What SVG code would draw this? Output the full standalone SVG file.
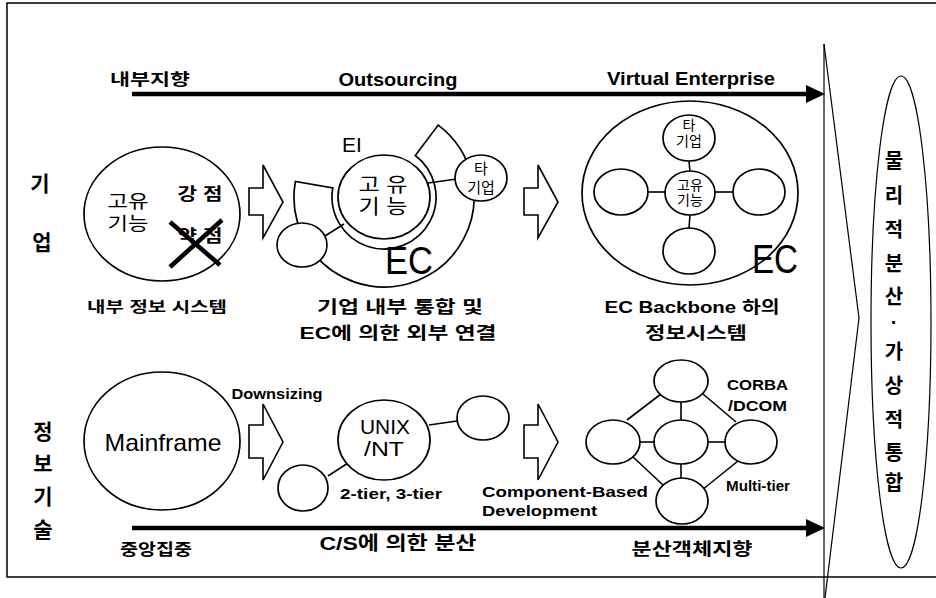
<svg xmlns="http://www.w3.org/2000/svg" width="936" height="598" viewBox="0 0 936 598">
<style>
.bg{fill:#fff}
.fr{fill:none;stroke:#000;stroke-width:1.5}
.ln{fill:none;stroke:#000;stroke-width:1.6}
.thin{fill:none;stroke:#000;stroke-width:1.2}
.nd{fill:#fff;stroke:#000;stroke-width:1.7}
.thick{stroke:#000;stroke-width:4.5;fill:none}
.head{fill:#000}
text{font-family:"Liberation Sans","Noto Sans CJK KR",sans-serif;fill:#000;text-anchor:middle}
.b{font-weight:bold}
.s{text-anchor:start}
</style>
<rect class="bg" x="0" y="0" width="936" height="598"/>
<g id="frame">
<path class="fr" d="M936,3 H7 V577 H936"/>
<line class="thin" x1="824" y1="44" x2="824" y2="598"/>
<polyline class="thin" points="824,44 859,318 825,598"/>
</g>
<g id="result">
<ellipse class="thin" cx="901" cy="322" rx="30" ry="246"/>
<g class="b" font-size="20">
<text x="894" y="168">물</text>
<text x="894" y="203">리</text>
<text x="894" y="237">적</text>
<text x="894" y="271">분</text>
<text x="894" y="304">산</text>
<text x="894" y="329">·</text>
<text x="894" y="359">가</text>
<text x="894" y="393">상</text>
<text x="894" y="427">적</text>
<text x="894" y="460">통</text>
<text x="894" y="490">합</text>
</g>
</g>
<g id="axis-labels" class="b" font-size="21">
<text x="40" y="191">기</text>
<text x="42" y="250">업</text>
<text x="43" y="439">정</text>
<text x="43" y="471">보</text>
<text x="43" y="504">기</text>
<text x="43" y="537">술</text>
</g>
<g id="connectors">
<line class="thick" x1="132" y1="94" x2="808" y2="94"/>
<polygon class="head" points="806,85 825,94 806,103"/>
<line class="thick" x1="132" y1="528" x2="808" y2="528"/>
<polygon class="head" points="806,519 825,528 806,537"/>
<polygon class="ln" points="249,188 263,188 263,165 283,202 263,238 263,215 249,215"/>
<polygon class="ln" points="524,188 538,188 538,165 558,202 538,238 538,215 524,215"/>
<polygon class="ln" points="249,425 263,425 263,404 283,442 263,480 263,458 249,458"/>
<polygon class="ln" points="524,425 538,425 538,404 558,442 538,480 538,458 524,458"/>
</g>
<g id="top-labels">
<text class="b" x="150" y="85" font-size="16" textLength="80" lengthAdjust="spacingAndGlyphs">내부지향</text>
<text class="b" x="398" y="86" font-size="19" textLength="119" lengthAdjust="spacingAndGlyphs">Outsourcing</text>
<text class="b" x="691" y="85" font-size="19" textLength="168" lengthAdjust="spacingAndGlyphs">Virtual Enterprise</text>
</g>
<g id="internal">
<ellipse class="nd" cx="162" cy="214" rx="78" ry="67"/>
<text x="128" y="208" font-size="18" textLength="41" lengthAdjust="spacingAndGlyphs">고유</text>
<text x="128" y="230" font-size="18" textLength="41" lengthAdjust="spacingAndGlyphs">기능</text>
<text class="b" x="200" y="200" font-size="17" textLength="45" lengthAdjust="spacingAndGlyphs">강 점</text>
<text class="b" x="200" y="242" font-size="17" textLength="45" lengthAdjust="spacingAndGlyphs">약 점</text>
<line class="thick" x1="170" y1="222" x2="220" y2="265"/>
<line class="thick" x1="170" y1="267" x2="222" y2="220"/>
<text class="b" x="157" y="312" font-size="15" textLength="140" lengthAdjust="spacingAndGlyphs">내부 정보 시스템</text>
</g>
<g id="ec-band">
<path class="nd" d="M438.2,125.1 A90,90 0 1 1 295.4,181.4 L332.8,188 A52,52 0 1 0 415.3,155.5 Z"/>
<text x="352" y="152" font-size="21">EI</text>
</g>
<g id="ec-links">
<line class="ln" x1="428" y1="183" x2="457" y2="179"/>
<line class="ln" x1="325" y1="236" x2="344" y2="224"/>
</g>
<g id="core">
<ellipse class="nd" cx="384" cy="197" rx="46" ry="42"/>
<text x="383" y="192" font-size="20" textLength="49" lengthAdjust="spacingAndGlyphs">고 유</text>
<text x="383" y="214" font-size="20" textLength="49" lengthAdjust="spacingAndGlyphs">기 능</text>
</g>
<g id="partner">
<ellipse class="nd" cx="481" cy="178" rx="26" ry="23"/>
<text x="481" y="174" font-size="15">타</text>
<text x="481" y="193" font-size="15">기업</text>
</g>
<g id="node-left">
<ellipse class="nd" cx="302" cy="245" rx="25" ry="22"/>
</g>
<g id="ec-label">
<text x="409" y="274" font-size="38" textLength="48" lengthAdjust="spacingAndGlyphs">EC</text>
<text class="b" x="400" y="313" font-size="17" textLength="166" lengthAdjust="spacingAndGlyphs">기업 내부 통합 및</text>
<text class="b" x="398" y="339" font-size="17" textLength="197" lengthAdjust="spacingAndGlyphs">EC에 의한 외부 연결</text>
</g>
<g id="ve">
<ellipse class="nd" cx="690" cy="193" rx="108" ry="92"/>
<line class="ln" x1="689" y1="161" x2="690" y2="172"/>
<line class="ln" x1="690" y1="215" x2="689" y2="228"/>
<line class="ln" x1="648" y1="192" x2="665" y2="192"/>
<line class="ln" x1="715" y1="192" x2="733" y2="192"/>
<ellipse class="nd" cx="689" cy="138" rx="26" ry="23"/>
<text x="689" y="130" font-size="14">타</text>
<text x="689" y="146" font-size="14">기업</text>
<ellipse class="nd" cx="690" cy="193" rx="25" ry="22"/>
<text x="690" y="190" font-size="14">고유</text>
<text x="690" y="205" font-size="14">기능</text>
<ellipse class="nd" cx="621" cy="192" rx="27" ry="23"/>
<ellipse class="nd" cx="759" cy="192" rx="26" ry="23"/>
<ellipse class="nd" cx="689" cy="251" rx="26" ry="23"/>
<text x="775" y="273" font-size="40" textLength="46" lengthAdjust="spacingAndGlyphs">EC</text>
<text class="b" x="692" y="313" font-size="17" textLength="175" lengthAdjust="spacingAndGlyphs">EC Backbone 하의</text>
<text class="b" x="696" y="339" font-size="17" textLength="102" lengthAdjust="spacingAndGlyphs">정보시스템</text>
</g>
<g id="mainframe">
<ellipse class="nd" cx="162" cy="441" rx="78" ry="69"/>
<text x="163" y="451" font-size="24" textLength="117" lengthAdjust="spacingAndGlyphs">Mainframe</text>
<text class="b" x="277" y="399" font-size="15" textLength="91" lengthAdjust="spacingAndGlyphs">Downsizing</text>
</g>
<g id="cs">
<line class="ln" x1="328" y1="476" x2="348" y2="463"/>
<line class="ln" x1="429" y1="425" x2="457" y2="421"/>
<ellipse class="nd" cx="384" cy="440" rx="46" ry="40"/>
<text x="385" y="434" font-size="20" textLength="50" lengthAdjust="spacingAndGlyphs">UNIX</text>
<text x="384" y="456" font-size="20" textLength="40" lengthAdjust="spacingAndGlyphs">/NT</text>
<ellipse class="nd" cx="303" cy="488" rx="25" ry="23"/>
<ellipse class="nd" cx="483" cy="418" rx="26" ry="22"/>
<text class="b" x="391" y="499" font-size="15" textLength="102" lengthAdjust="spacingAndGlyphs">2-tier, 3-tier</text>
</g>
<g id="distributed">
<line class="ln" x1="681" y1="402" x2="681" y2="420"/>
<line class="ln" x1="681" y1="463" x2="681" y2="478"/>
<line class="ln" x1="640" y1="442" x2="655" y2="442"/>
<line class="ln" x1="708" y1="442" x2="725" y2="442"/>
<line class="ln" x1="627" y1="420" x2="661" y2="394"/>
<line class="ln" x1="703" y1="394" x2="736" y2="422"/>
<line class="ln" x1="632" y1="456" x2="663" y2="485"/>
<line class="ln" x1="738" y1="461" x2="702" y2="490"/>
<ellipse class="nd" cx="681" cy="381" rx="27" ry="21"/>
<ellipse class="nd" cx="613" cy="442" rx="27" ry="22"/>
<ellipse class="nd" cx="681" cy="442" rx="27" ry="22"/>
<ellipse class="nd" cx="751" cy="442" rx="26" ry="22"/>
<ellipse class="nd" cx="682" cy="501" rx="26" ry="23"/>
<text class="b s" x="727" y="390" font-size="15" textLength="61" lengthAdjust="spacingAndGlyphs">CORBA</text>
<text class="b s" x="728" y="411" font-size="15" textLength="59" lengthAdjust="spacingAndGlyphs">/DCOM</text>
<text class="b s" x="726" y="491" font-size="15" textLength="64" lengthAdjust="spacingAndGlyphs">Multi-tier</text>
<text class="b s" x="482" y="497" font-size="15" textLength="166" lengthAdjust="spacingAndGlyphs">Component-Based</text>
<text class="b s" x="482" y="516" font-size="15" textLength="115" lengthAdjust="spacingAndGlyphs">Development</text>
</g>
<g id="bottom-labels">
<text class="b" x="156" y="555" font-size="16" textLength="72" lengthAdjust="spacingAndGlyphs">중앙집중</text>
<text class="b" x="398" y="550" font-size="19" textLength="157" lengthAdjust="spacingAndGlyphs">C/S에 의한 분산</text>
<text class="b" x="692" y="555" font-size="17" textLength="121" lengthAdjust="spacingAndGlyphs">분산객체지향</text>
</g>
</svg>
